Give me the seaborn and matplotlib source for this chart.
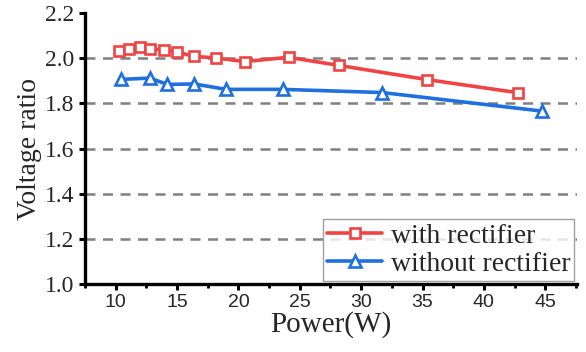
import numpy as np
import pandas as pd
import matplotlib
matplotlib.use("Agg")
import matplotlib.pyplot as plt
import seaborn as sns
from matplotlib.ticker import MultipleLocator

# Data
with_power = [10.3, 11.1, 12.0, 12.8, 13.9, 15.0, 16.4, 18.2, 20.5, 24.1, 28.2, 35.4, 42.8]
with_ratio = [2.030, 2.041, 2.050, 2.041, 2.038, 2.027, 2.008, 2.001, 1.985, 2.004, 1.968, 1.905, 1.847]
without_power = [10.4, 12.8, 14.2, 16.4, 19.0, 23.6, 31.7, 44.7]
without_ratio = [1.906, 1.912, 1.884, 1.886, 1.862, 1.862, 1.848, 1.766]
labels = ["with rectifier", "without rectifier"]

sns.set_style("white")
plt.rcParams["font.family"] = ["Liberation Serif", "DejaVu Serif"]

fig = plt.figure(figsize=(5.86, 3.52), dpi=100)
ax = fig.add_axes([0.145, 0.193, 0.84, 0.770])

series = [
    (with_power, with_ratio, labels[0], "#F04444", "s"),
    (without_power, without_ratio, labels[1], "#1F6FDF", "^"),
]
for xs, ys, lab, col, mk in series:
    sns.lineplot(x=xs, y=ys, ax=ax, color=col, linewidth=2.6, sort=False,
                 label=lab, estimator=None)
    line = ax.get_lines()[-1]
    line.set_marker(mk)
    line.set_markersize(7.5 if mk == "s" else 8.5)
    line.set_markerfacecolor("white")
    line.set_markeredgecolor(col)
    line.set_markeredgewidth(1.9)
    line.set_linestyle("-")

ax.set_xlim(7.5, 47.6)
ax.set_ylim(1.0, 2.2)
ax.xaxis.set_major_locator(MultipleLocator(5))
ax.xaxis.set_minor_locator(MultipleLocator(2.5))
yt = np.arange(1.0, 2.21, 0.2)
ax.set_yticks(yt)
ax.set_yticklabels([f"{v:.1f}" for v in yt])

ax.yaxis.grid(True, linestyle=(0, (4, 3)), color="#808080", linewidth=1.8)
ax.xaxis.grid(False)
glines = ax.get_ygridlines()
glines[0].set_visible(False)
glines[-1].set_visible(False)
ax.set_axisbelow(True)

for s in ["top", "right"]:
    ax.spines[s].set_visible(False)
for s in ["left", "bottom"]:
    ax.spines[s].set_linewidth(2.4)
    ax.spines[s].set_color("black")

ax.tick_params(axis="both", which="major", direction="out", length=4, width=2.2,
               color="black", left=True, bottom=True)
ax.tick_params(axis="x", which="minor", direction="out", length=3, width=2.0,
               color="black", bottom=True)
for t in ax.get_xticklabels():
    t.set_fontfamily(["Liberation Sans", "DejaVu Sans"])
    t.set_fontsize(14)
for t in ax.get_yticklabels():
    t.set_fontsize(17)

ax.set_xlabel("Power(W)", fontsize=21, labelpad=0)
ax.set_ylabel("Voltage ratio", fontsize=20, labelpad=2)

handles, labs = ax.get_legend_handles_labels()
leg = ax.legend(handles, labs, loc="lower right", fontsize=20, frameon=True,
                fancybox=False, edgecolor="#888888", handlelength=2.0,
                handletextpad=0.3, borderpad=0.15, labelspacing=0.1,
                borderaxespad=0.1)
leg.get_frame().set_linewidth(1.0)

fig.savefig("out.png", dpi=100)
